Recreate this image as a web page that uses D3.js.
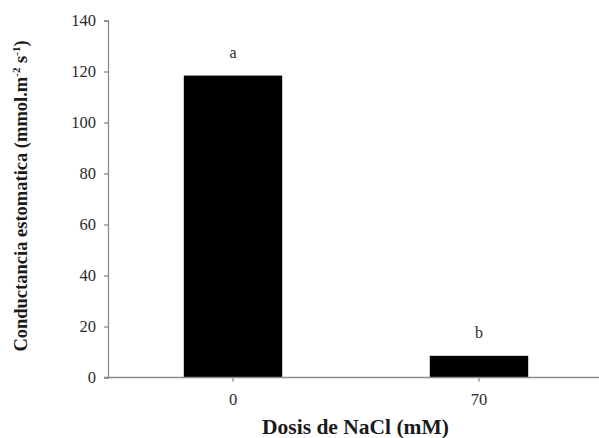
<!DOCTYPE html>
<html>
<head>
<meta charset="utf-8">
<script src="https://cdn.jsdelivr.net/npm/d3@7"></script>
<style>
  html, body { margin: 0; padding: 0; background: #fff; }
  svg { display: block; }
  text { font-family: "Liberation Serif", "Times New Roman", serif; }
</style>
</head>
<body>
<div id="chart"></div>
<script>
// Stomatal conductance by NaCl dose
const doses = ["0", "70"];
const conductance = [118.4, 8.5];
const letters = ["a", "b"];
const yTicks = [0, 20, 40, 60, 80, 100, 120, 140];

const width = 599, height = 438;
const margin = { top: 20.5, right: -3, bottom: 60.5, left: 108 };

const svg = d3.select("#chart").append("svg")
  .attr("width", width).attr("height", height);

const x = d3.scaleBand()
  .domain(doses)
  .range([margin.left + 2, width - margin.right])
  .paddingInner(0.6)
  .paddingOuter(0.3);

const y = d3.scaleLinear()
  .domain([0, 140])
  .range([height - margin.bottom, margin.top]);

const axisColor = "#8a8a8a";
const labelColor = "#2a2a2a";

// bars
svg.append("g").selectAll("rect")
  .data(doses)
  .join("rect")
  .attr("x", d => x(d))
  .attr("width", x.bandwidth())
  .attr("y", (d, i) => y(conductance[i]))
  .attr("height", (d, i) => y(0) - y(conductance[i]))
  .attr("fill", "#000");

// significance letters
svg.append("g").selectAll("text")
  .data(doses)
  .join("text")
  .attr("x", d => x(d) + x.bandwidth() / 2)
  .attr("y", (d, i) => y(conductance[i]) - 18)
  .attr("text-anchor", "middle")
  .attr("font-size", 16)
  .attr("fill", labelColor)
  .text((d, i) => letters[i]);

// y axis
const yAxis = svg.append("g")
  .attr("transform", `translate(${margin.left},0)`)
  .call(d3.axisLeft(y).tickValues(yTicks).tickSize(4).tickPadding(8));
yAxis.select(".domain").attr("stroke", axisColor).attr("stroke-width", 1.3);
yAxis.selectAll(".tick line").attr("stroke", axisColor).attr("stroke-width", 1.3);
yAxis.selectAll(".tick text")
  .attr("font-size", 16.5)
  .attr("fill", labelColor)
  .attr("font-family", "Liberation Serif, Times New Roman, serif");

// x axis
const xAxis = svg.append("g")
  .attr("transform", `translate(0,${y(0)})`)
  .call(d3.axisBottom(x).tickSize(4).tickSizeOuter(0).tickPadding(12));
xAxis.select(".domain")
  .attr("d", `M${margin.left - 4},0H${width}`)
  .attr("stroke", axisColor).attr("stroke-width", 1.3);
xAxis.selectAll(".tick line").attr("stroke", axisColor).attr("stroke-width", 1.3);
xAxis.selectAll(".tick text")
  .attr("font-size", 16.5)
  .attr("fill", labelColor)
  .attr("font-family", "Liberation Serif, Times New Roman, serif");

// axis titles
svg.append("text")
  .attr("x", (margin.left + width) / 2 + 2)
  .attr("y", 434)
  .attr("text-anchor", "middle")
  .attr("font-size", 21.5)
  .attr("font-weight", "bold")
  .attr("fill", "#1a1a1a")
  .text("Dosis de NaCl (mM)");

const yTitle = svg.append("text")
  .attr("transform", `translate(27,196) rotate(-90)`)
  .attr("text-anchor", "middle")
  .attr("font-size", 18.5)
  .attr("font-weight", "bold")
  .attr("fill", "#1a1a1a");
yTitle.append("tspan").text("Conductancia estomatica (mmol.m");
yTitle.append("tspan").attr("dy", -7).attr("font-size", 11).text("-2");
yTitle.append("tspan").attr("dy", 7).text(" s");
yTitle.append("tspan").attr("dy", -7).attr("font-size", 11).text("-1");
yTitle.append("tspan").attr("dy", 7).text(")");
</script>
</body>
</html>
